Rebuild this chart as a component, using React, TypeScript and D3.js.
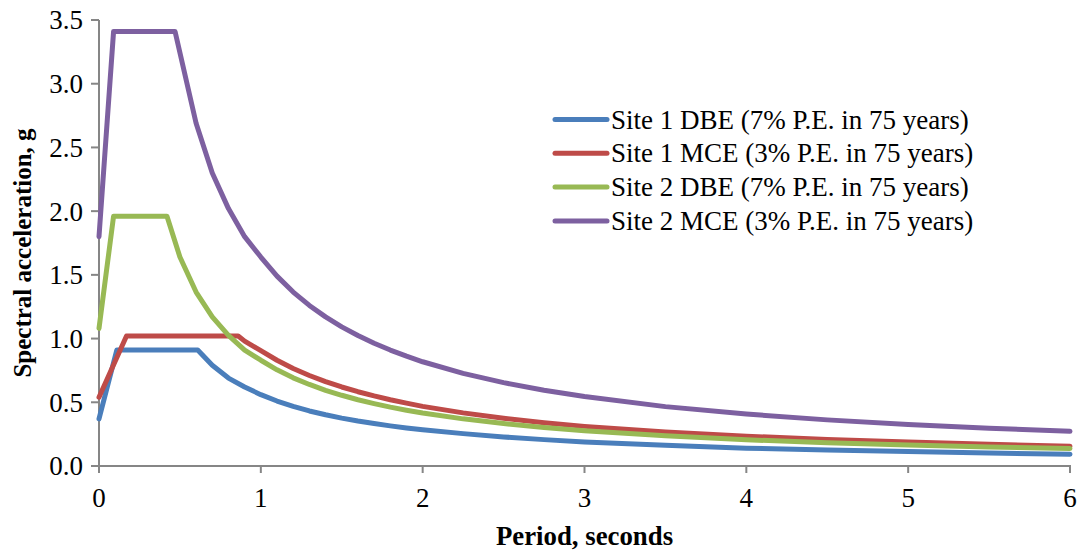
import React from "react";
import * as d3 from "d3";

// ---- data ----
const site1DbePeriods = [0, 0.11, 0.61, 0.7, 0.8, 0.9, 1.0, 1.1, 1.2, 1.3, 1.4, 1.5, 1.6, 1.7, 1.8, 1.9, 2.0, 2.25, 2.5, 2.75, 3.0, 3.5, 4.0, 4.5, 5.0, 5.5, 6.0];
const site1DbeValues = [0.37, 0.91, 0.91, 0.79, 0.69, 0.62, 0.56, 0.51, 0.468, 0.432, 0.402, 0.376, 0.353, 0.333, 0.315, 0.299, 0.285, 0.254, 0.228, 0.207, 0.189, 0.162, 0.14, 0.125, 0.113, 0.102, 0.093];

const site1McePeriods = [0, 0.17, 0.86, 0.9, 1.0, 1.1, 1.2, 1.3, 1.4, 1.5, 1.6, 1.7, 1.8, 1.9, 2.0, 2.25, 2.5, 2.75, 3.0, 3.5, 4.0, 4.5, 5.0, 5.5, 6.0];
const site1MceValues = [0.54, 1.02, 1.02, 0.98, 0.905, 0.83, 0.765, 0.71, 0.662, 0.62, 0.583, 0.55, 0.52, 0.493, 0.468, 0.417, 0.375, 0.34, 0.311, 0.266, 0.234, 0.208, 0.188, 0.17, 0.155];

const site2DbePeriods = [0, 0.09, 0.42, 0.5, 0.6, 0.7, 0.8, 0.9, 1.0, 1.1, 1.2, 1.3, 1.4, 1.5, 1.6, 1.7, 1.8, 1.9, 2.0, 2.25, 2.5, 2.75, 3.0, 3.5, 4.0, 4.5, 5.0, 5.5, 6.0];
const site2DbeValues = [1.08, 1.96, 1.96, 1.64, 1.365, 1.17, 1.025, 0.91, 0.83, 0.755, 0.692, 0.64, 0.594, 0.555, 0.52, 0.49, 0.462, 0.438, 0.416, 0.37, 0.333, 0.303, 0.277, 0.237, 0.206, 0.183, 0.165, 0.15, 0.137];

const site2McePeriods = [0, 0.09, 0.47, 0.6, 0.7, 0.8, 0.9, 1.0, 1.1, 1.2, 1.3, 1.4, 1.5, 1.6, 1.7, 1.8, 1.9, 2.0, 2.25, 2.5, 2.75, 3.0, 3.5, 4.0, 4.5, 5.0, 5.5, 6.0];
const site2MceValues = [1.8, 3.41, 3.41, 2.69, 2.3, 2.02, 1.8, 1.64, 1.49, 1.365, 1.26, 1.17, 1.092, 1.024, 0.963, 0.91, 0.862, 0.818, 0.727, 0.654, 0.595, 0.545, 0.466, 0.408, 0.362, 0.326, 0.297, 0.272];

const seriesNames = [
  "Site 1 DBE (7% P.E. in 75 years)",
  "Site 1 MCE (3% P.E. in 75 years)",
  "Site 2 DBE (7% P.E. in 75 years)",
  "Site 2 MCE (3% P.E. in 75 years)",
];
const seriesColors = ["#4A7EBB", "#BE4B48", "#98B954", "#7D60A0"];

const xTicks = [0, 1, 2, 3, 4, 5, 6];
const yTicks = [0, 0.5, 1.0, 1.5, 2.0, 2.5, 3.0, 3.5];

const xTitle = "Period, seconds";
const yTitle = "Spectral acceleration, g";

// ---- layout ----
const W = 1079;
const H = 552;
const plot = { left: 99, right: 1070, top: 20, bottom: 466 };
const FONT = "'Liberation Serif', 'Times New Roman', serif";
const AXIS = "#868686";

export default function App() {
  const x = d3.scaleLinear().domain([0, 6]).range([plot.left, plot.right]);
  const y = d3.scaleLinear().domain([0, 3.5]).range([plot.bottom, plot.top]);

  const series = [
    { periods: site1DbePeriods, values: site1DbeValues },
    { periods: site1McePeriods, values: site1MceValues },
    { periods: site2DbePeriods, values: site2DbeValues },
    { periods: site2McePeriods, values: site2MceValues },
  ].map((s, i) => ({
    name: seriesNames[i],
    color: seriesColors[i],
    points: s.periods.map((p, j) => [p, s.values[j]] as [number, number]),
  }));

  const line = d3
    .line<[number, number]>()
    .x((d) => x(d[0]))
    .y((d) => y(d[1]));

  const legendX = 555;
  const legendY = 119.5;
  const legendStep = 33.8;

  return (
    <svg
      width={W}
      height={H}
      style={{ position: "absolute", left: 0, top: 0, background: "#fff" }}
      fontFamily={FONT}
    >
      <rect x={0} y={0} width={W} height={H} fill="#fff" />

      {/* axes */}
      <line x1={plot.left} x2={plot.left} y1={plot.top} y2={plot.bottom} stroke={AXIS} strokeWidth={2} />
      <line x1={plot.left - 8} x2={plot.right + 1} y1={plot.bottom} y2={plot.bottom} stroke={AXIS} strokeWidth={2} />

      {yTicks.map((t) => (
        <g key={"y" + t}>
          <line x1={plot.left - 8} x2={plot.left} y1={y(t)} y2={y(t)} stroke={AXIS} strokeWidth={2} />
          <text x={83} y={y(t)} dy="0.35em" textAnchor="end" fontSize={27} fill="#000">
            {t.toFixed(1)}
          </text>
        </g>
      ))}

      {xTicks.map((t) => (
        <g key={"x" + t}>
          <line x1={x(t)} x2={x(t)} y1={plot.bottom} y2={plot.bottom + 7} stroke={AXIS} strokeWidth={2} />
          <text x={x(t)} y={507} textAnchor="middle" fontSize={27} fill="#000">
            {t}
          </text>
        </g>
      ))}

      {/* series */}
      {series.map((s) => (
        <path
          key={s.name}
          d={line(s.points) || ""}
          fill="none"
          stroke={s.color}
          strokeWidth={5}
          strokeLinejoin="round"
          strokeLinecap="round"
        />
      ))}

      {/* legend */}
      {series.map((s, i) => (
        <g key={"leg" + i}>
          <line
            x1={legendX}
            x2={legendX + 52}
            y1={legendY + i * legendStep}
            y2={legendY + i * legendStep}
            stroke={s.color}
            strokeWidth={5}
            strokeLinecap="round"
          />
          <text x={legendX + 56} y={legendY + i * legendStep + 9} fontSize={27} fill="#000">
            {s.name}
          </text>
        </g>
      ))}

      {/* titles */}
      <text
        x={(plot.left + plot.right) / 2}
        y={545}
        textAnchor="middle"
        fontSize={26.8}
        fontWeight="bold"
        fill="#000"
      >
        {xTitle}
      </text>
      <text
        transform={`translate(31, 253) rotate(-90)`}
        textAnchor="middle"
        fontSize={25}
        fontWeight="bold"
        fill="#000"
      >
        {yTitle}
      </text>
    </svg>
  );
}
